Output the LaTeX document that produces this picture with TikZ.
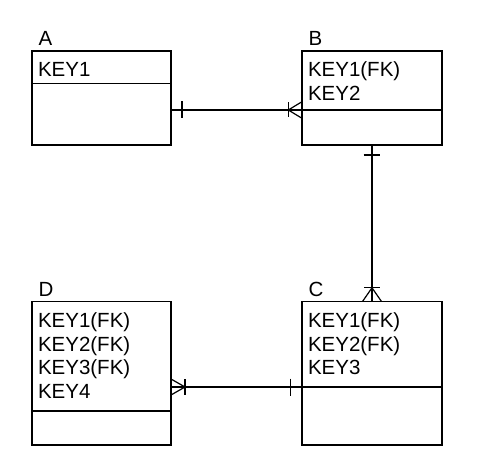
\documentclass[tikz,border=0pt]{standalone}
\usepackage{fontspec}
\setmainfont{Liberation Sans}
\usetikzlibrary{calc}
\tikzset{
  ent/.style={draw, line width=1.2pt, inner sep=0pt, outer sep=0pt, anchor=north west},
  txt/.style={anchor=base west, inner sep=0pt, outer sep=0pt, font=\fontsize{20.5}{23.5}\selectfont},
  conn/.style={line width=1.2pt}
}
\begin{document}
\begin{tikzpicture}[x=1pt,y=-1pt]
\useasboundingbox (0,0) rectangle (482,468);
% entities
\node[ent, minimum width=139pt, minimum height=94pt] (A) at (32,51) {};
\node[ent, minimum width=140pt, minimum height=94pt] (B) at (302,51) {};
\node[ent, minimum width=140pt, minimum height=143.5pt] (C) at (302,301.5) {};
\node[ent, minimum width=139pt, minimum height=143.5pt] (D) at (32,301.5) {};
% separators
\coordinate (Asep) at (32,83.3);
\coordinate (Bsep) at (302,110);
\coordinate (Csep) at (302,387);
\coordinate (Dsep) at (32,411);
\draw[conn] (Asep) -- (Asep -| A.east);
\draw[conn] (Bsep) -- (Bsep -| B.east);
\draw[conn] (Csep) -- (Csep -| C.east);
\draw[conn] (Dsep) -- (Dsep -| D.east);
% labels
\node[txt] (Alab) at (38.5,46) {A};
\node[txt] (Blab) at (308.5,46) {B};
\node[txt] (Clab) at (308.5,296.5) {C};
\node[txt] (Dlab) at (38.5,296.5) {D};
% attributes
\node[txt] (A1) at (38,76.5) {KEY1};
\node[txt] (B1) at (308,77) {KEY1(FK)};
\node[txt] (B2) at (308,100.5) {KEY2};
\node[txt] (C1) at (308,327.5) {KEY1(FK)};
\node[txt] (C2) at (308,351) {KEY2(FK)};
\node[txt] (C3) at (308,374.5) {KEY3};
\node[txt] (D1) at (38,327.5) {KEY1(FK)};
\node[txt] (D2) at (38,351) {KEY2(FK)};
\node[txt] (D3) at (38,374.5) {KEY3(FK)};
\node[txt] (D4) at (38,398) {KEY4};
% A -- B
\draw[conn] (A.east |- Bsep) -- (Bsep);
\draw[conn] ($(A.east |- Bsep)+(11,-8.5)$) -- ($(A.east |- Bsep)+(11,8.5)$);
\draw[conn] ($(Bsep)+(0,-8.3)$) -- ($(Bsep)+(-13.7,0)$) -- ($(Bsep)+(0,8.3)$);
\draw[conn] ($(Bsep)+(-13.7,-7.5)$) -- ($(Bsep)+(-13.7,7.5)$);
% B -- C
\draw[conn] (B.south) -- (C.north);
\draw[conn] ($(B.south)+(-8.3,10)$) -- ($(B.south)+(8.3,10)$);
\draw[conn] ($(C.north)+(-9.5,0)$) -- ($(C.north)+(0,-13.7)$) -- ($(C.north)+(9.5,0)$);
\draw[conn] ($(C.north)+(-8,-13.7)$) -- ($(C.north)+(8,-13.7)$);
% C -- D
\draw[conn] (Csep) -- (D.east |- Csep);
\draw[conn] ($(Csep)+(-11.3,-8.5)$) -- ($(Csep)+(-11.3,8.5)$);
\draw[conn] ($(D.east |- Csep)+(0,-8)$) -- ($(D.east |- Csep)+(14,0)$) -- ($(D.east |- Csep)+(0,8)$);
\draw[conn] ($(D.east |- Csep)+(14,-8)$) -- ($(D.east |- Csep)+(14,8)$);
\end{tikzpicture}
\end{document}
